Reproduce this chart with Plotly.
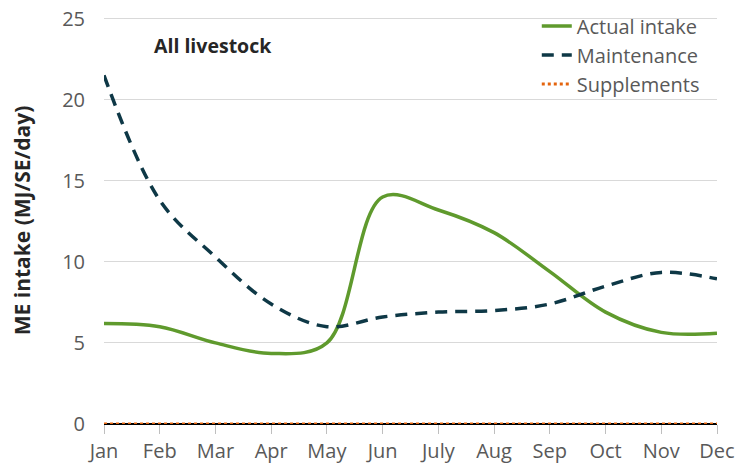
import plotly.graph_objects as go

months = ["Jan", "Feb", "Mar", "Apr", "May", "Jun", "July", "Aug", "Sep", "Oct", "Nov", "Dec"]
actual_intake = [6.2, 6.0, 5.0, 4.35, 5.0, 14.0, 13.2, 11.8, 9.4, 6.9, 5.65, 5.6]
maintenance = [21.5, 13.8, 10.3, 7.4, 6.0, 6.6, 6.9, 7.0, 7.4, 8.5, 9.35, 8.95]
supplements = [0, 0, 0, 0, 0, 0, 0, 0, 0, 0, 0, 0]
y_ticks = [0, 5, 10, 15, 20, 25]

FONT = "Open Sans"
GREY = "#595959"

fig = go.Figure()
fig.add_trace(go.Scatter(
    x=months, y=actual_intake, name="Actual intake", mode="lines",
    line=dict(color="#5f9a2d", width=3.5, shape="spline", smoothing=1.0),
))
fig.add_trace(go.Scatter(
    x=months, y=maintenance, name="Maintenance", mode="lines",
    line=dict(color="#0e3846", width=3.5, shape="spline", smoothing=1.0, dash="12px,8px"),
))
fig.add_trace(go.Scatter(
    x=months, y=supplements, name="Supplements", mode="lines",
    line=dict(color="#e4640e", width=3, dash="3px,3px"),
))

fig.add_annotation(
    text="<b>All livestock</b>", xref="paper", yref="paper",
    x=0.178, y=0.929, xanchor="center", yanchor="middle", showarrow=False,
    font=dict(family=FONT, size=19.5, color="#262626"),
)

# page body has an 8px margin, so the figure is 8px smaller and margins shifted
fig.update_layout(
    width=735, height=460,
    margin=dict(l=96, r=26, t=9.4, b=44, autoexpand=False),
    paper_bgcolor="white", plot_bgcolor="white",
    font=dict(family=FONT, size=20, color=GREY),
    showlegend=True,
    legend=dict(
        x=0.706, y=1.026, xanchor="left", yanchor="top",
        bgcolor="rgba(0,0,0,0)", font=dict(family=FONT, size=20, color=GREY),
        tracegroupgap=0,
    ),
    xaxis=dict(
        type="category", range=[0, 11], automargin=False,
        showgrid=False, showline=False, zeroline=False,
        ticks="outside", ticklen=9, tickcolor="#bfbfbf", tickwidth=1,
        tickfont=dict(family=FONT, size=20, color=GREY),
        ticklabeloverflow="allow",
    ),
    yaxis=dict(
        range=[0, 25.1], tickvals=y_ticks, automargin=False,
        showgrid=True, gridcolor="#d9d9d9", gridwidth=1,
        zeroline=True, zerolinecolor="#000000", zerolinewidth=2,
        showline=False, ticks="",
        ticklabelstandoff=18, ticklabeloverflow="allow",
        tickfont=dict(family=FONT, size=20, color=GREY),
        title=dict(text="<b>ME intake (MJ/SE/day)</b>", standoff=26,
                   font=dict(family=FONT, size=21, color="#262626")),
    ),
)

fig.write_html("out.html")
